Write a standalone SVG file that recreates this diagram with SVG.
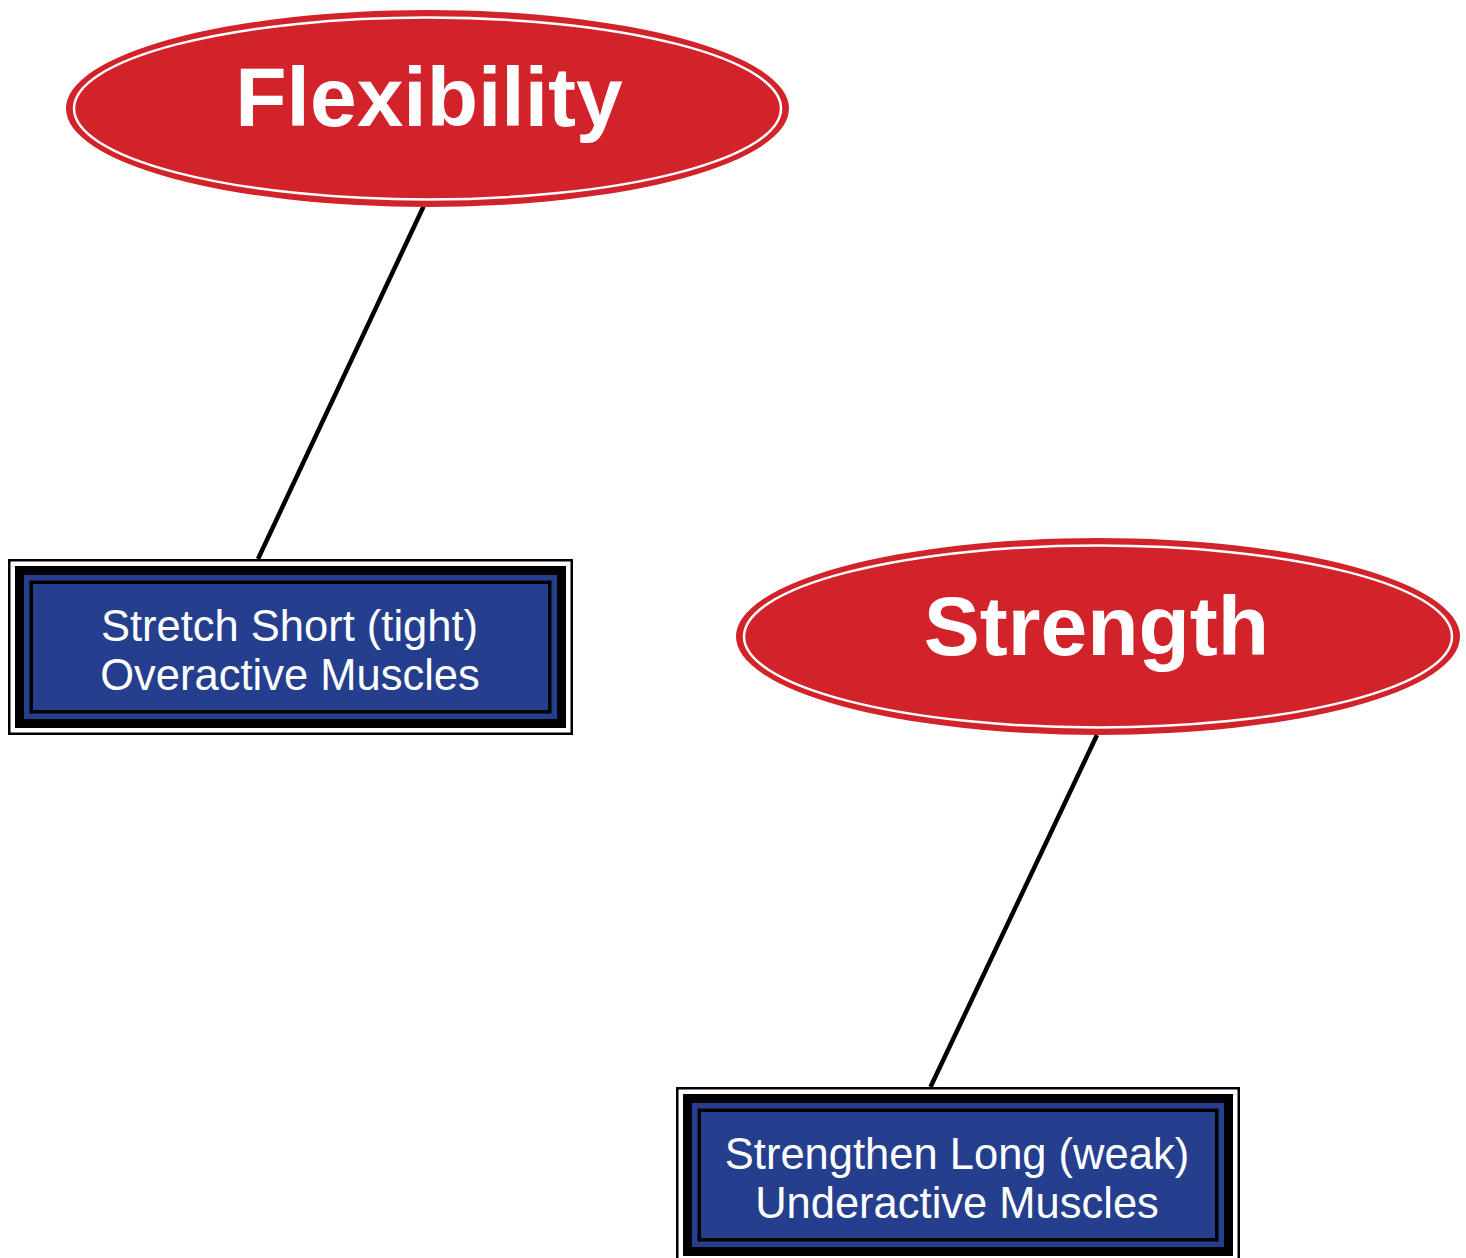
<svg xmlns="http://www.w3.org/2000/svg" width="1466" height="1258" viewBox="0 0 1466 1258">
<style>
.ell{fill:#D2232A;}
.ring{fill:none;stroke:#FFFFFF;stroke-width:2.5;}
.title{font-family:"Liberation Sans",Arial,sans-serif;font-weight:bold;font-size:84px;fill:#FFFFFF;text-anchor:middle;}
.outer{fill:#FFFFFF;stroke:#000000;stroke-width:2.5;}
.band{fill:#000000;}
.blue{fill:#253F8E;}
.inner{fill:#253F8E;stroke:#000000;stroke-width:3.5;}
.label{font-family:"Liberation Sans",Arial,sans-serif;font-size:43.5px;fill:#FFFFFF;text-anchor:middle;}
.edge{stroke:#000000;stroke-width:4.5;fill:none;}
</style>
<rect width="1466" height="1258" fill="#FFFFFF"/>
<g id="connectors">
<line class="edge" x1="423.5" y1="206.5" x2="258" y2="559"/>
<line class="edge" x1="1097" y1="735" x2="930.5" y2="1087"/>
</g>
<g id="flexibility">
<ellipse class="ell" cx="427.5" cy="108.5" rx="361.5" ry="98.5"/>
<ellipse class="ring" cx="427.5" cy="108.5" rx="353.5" ry="91"/>
<text class="title" x="429" y="126">Flexibility</text>
</g>
<g id="strength">
<ellipse class="ell" cx="1098" cy="636.5" rx="362" ry="98.5"/>
<ellipse class="ring" cx="1098" cy="636.5" rx="354" ry="91"/>
<text class="title" x="1096.5" y="655">Strength</text>
</g>
<g id="stretch">
<rect class="outer" x="9.25" y="560.25" width="562.5" height="173.5"/>
<rect class="band" x="15" y="566" width="551" height="162"/>
<rect class="blue" x="24" y="575" width="533" height="144"/>
<rect class="inner" x="31.25" y="582.25" width="518.5" height="129.5"/>
<text class="label" x="289.5" y="641">Stretch Short (tight)</text>
<text class="label" x="290" y="690">Overactive Muscles</text>
</g>
<g id="strengthen">
<rect class="outer" x="677.25" y="1088.25" width="561.5" height="173.5"/>
<rect class="band" x="683" y="1094" width="550" height="162"/>
<rect class="blue" x="692" y="1103" width="532" height="144"/>
<rect class="inner" x="699.25" y="1110.25" width="517.5" height="129.5"/>
<text class="label" x="957" y="1169">Strengthen Long (weak)</text>
<text class="label" x="957" y="1218">Underactive Muscles</text>
</g>
</svg>
